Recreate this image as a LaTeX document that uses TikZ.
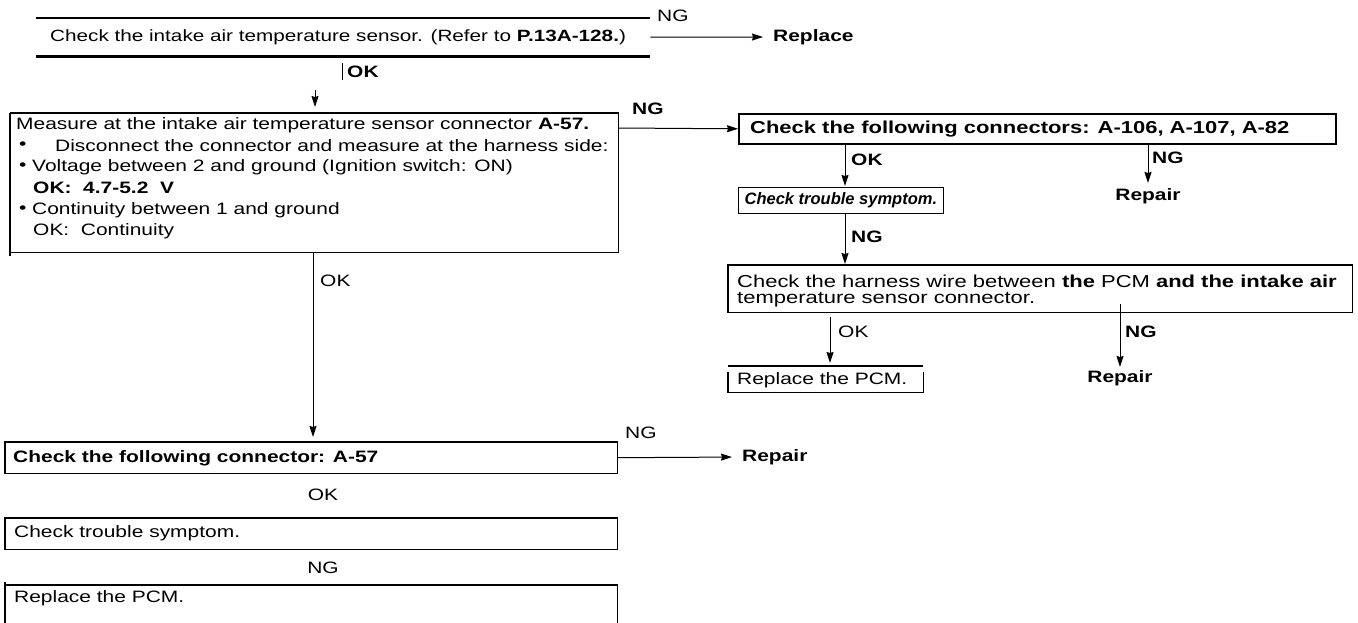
\documentclass[tikz,border=0pt]{standalone}
\usepackage{fontspec}
\setmainfont{Liberation Sans}[FakeStretch=1.27]
\newfontfamily\narrowfont{Liberation Sans}
\usetikzlibrary{arrows.meta,calc}
\newcommand\myfs{\fontsize{16.5}{19}\selectfont}
\newcommand\mybigfs{\fontsize{17.3}{20}\selectfont}
\tikzset{
  txt/.style={font=\myfs, inner sep=0pt, anchor=west},
  btxt/.style={font=\myfs\bfseries, inner sep=0pt, anchor=west},
  ctxt/.style={font=\myfs, inner sep=0pt, anchor=center},
  area/.style={draw=none, inner sep=0pt, anchor=north west},
  frame/.style={line width=1.6pt},
  thinframe/.style={line width=1.2pt},
  heavy/.style={line width=2.8pt},
  arr/.style={line width=1pt, -{Stealth[length=11pt,width=7pt,inset=1pt]}},
}
\begin{document}
\begin{tikzpicture}[x=1pt,y=-1pt]
\useasboundingbox (0,0) rectangle (1358,622);
\fill[white] (0,0) rectangle (1358,622);

% ---------- Box 1 ----------
\node[area, minimum width=614pt, minimum height=38pt] (b1) at (36,18) {};
\draw[thinframe] (b1.north west) -- (b1.north east);
\draw[heavy] (b1.south west) -- (b1.south east);
\node[txt, font=\fontsize{16.3}{19}\selectfont] (b1t) at (50,37) {Check the intake air temperature sensor. (Refer to \textbf{P.13A-128.})};
\node[txt] (ng1) at (657,16) {NG};
\node[btxt] (rep1) at (773,37) {Replace};
\draw[arr, shorten >=10pt] (b1.east) -- (rep1.west);

% OK tick and arrowhead
\coordinate (t1) at (342,63);
\draw[line width=1pt] (t1) -- ++(0,17);
\node[btxt] (ok1) at (347,72) {OK};
\coordinate (a1) at (315,90);

% ---------- Box 2 ----------
\node[area, minimum width=608pt, minimum height=139pt] (b2) at (10,113) {};
\draw[frame] (b2.north west) -- (b2.north east) -- (b2.south east) -- (b2.south west);
\draw[frame] (b2.north west) -- ([yshift=-4pt]b2.south west);
\draw[arr, shorten >=6pt] (a1) -- (a1 |- b2.north);
\node[txt] (l1) at (16,125) {Measure at the intake air temperature sensor connector \textbf{A-57.}};
\node[txt] (l2b) at (19,146) {•};
\node[txt] (l2) at (55,146) {Disconnect the connector and measure at the harness side:};
\node[txt] (l3b) at (19,167) {•};
\node[txt] (l3) at (32,167) {Voltage between 2 and ground (Ignition switch: ON)};
\node[txt] (l4) at (33,188) {\textbf{OK: \ 4.7-5.2 \ V}};
\node[txt] (l5b) at (19,210) {•};
\node[txt] (l5) at (32,210) {Continuity between 1 and ground};
\node[txt] (l6) at (33,231) {OK: \ Continuity};

% ---------- Right branch ----------
\node[btxt] (ng2) at (632,109) {NG};
\node[area, draw, frame, minimum width=597pt, minimum height=30pt] (b3) at (738,113) {};
\node[btxt, font=\mybigfs\bfseries] (b3t) at (750,129) {Check the following connectors: A-106, A-107, A-82};
\draw[arr] ([yshift=-15pt]b2.north east) -- (b3.west);

\node[area, draw, thinframe, minimum height=26pt, inner xsep=6pt, font=\narrowfont\myfs\bfseries\itshape] (b4) at (738,187) {Check trouble symptom.};
\draw[arr] ($(b3.south west)+(107,0)$) -- ($(b4.north west)+(107,-1)$);
\node[btxt] (ok2) at (851,160) {OK};

\node[ctxt, font=\myfs\bfseries, anchor=north] (rep2) at (1148,188) {Repair};
\draw[arr] (b3.south -| rep2.north) -- ([yshift=5pt]rep2.north);
\node[btxt] (ng3) at (1152,158) {NG};

\node[area, minimum width=624pt, minimum height=47pt] (b5) at (728,265) {};
\draw[frame] (b5.north west) rectangle (b5.south east);
\draw[arr] ($(b4.south west)+(107,0)$) -- ($(b5.north west)+(117,-1)$);
\node[btxt] (ng4) at (851,237) {NG};
\node[txt, font=\mybigfs] (h1) at (737,281) {Check the harness wire between \textbf{the} PCM \textbf{and the intake air}};
\node[txt, font=\mybigfs] (h2) at (737,300) {temperature sensor connector.};

\node[area, minimum width=195pt, minimum height=26pt] (b6) at (728,366) {};
\draw[heavy] (b6.north west) -- (b6.north east);
\draw[thinframe] ([yshift=-6pt]b6.north west) -- (b6.south west) -- (b6.south east) -- ([yshift=-6pt]b6.north east);
\node[txt] (b6t) at (737,380) {Replace the PCM.};
\draw[arr] ($(b5.south west)+(102,5)$) -- ($(b6.north west)+(102,-3)$);
\node[txt] (ok3) at (838,332) {OK};

\node[ctxt, font=\myfs\bfseries, anchor=north] (rep3) at (1120,370) {Repair};
\draw[arr] ([yshift=8pt]b5.south -| rep3.north) -- ([yshift=3pt]rep3.north);
\node[btxt] (ng5) at (1125,332) {NG};

% ---------- Lower left ----------
\node[area, minimum width=612pt, minimum height=31pt] (b7) at (5,442) {};
\draw[frame] (b7.north west) rectangle (b7.south east);
\node[btxt] (b7t) at (13,458) {Check the following connector: A-57};
\draw[arr, shorten >=5pt] ($(b2.south west)+(303,0)$) -- ($(b7.north west)+(308,0)$);
\node[txt] (ok4) at (320,281) {OK};
\node[txt] (ng6) at (625,433) {NG};
\node[btxt] (rep4) at (742,457) {Repair};
\draw[arr, shorten >=10pt] (b7.east) -- (rep4.west);

\node[ctxt] (ok5) at (323,495) {OK};
\node[area, minimum width=612pt, minimum height=31pt] (b8) at (5,518) {};
\draw[frame] (b8.north west) rectangle (b8.south east);
\node[txt] (b8t) at (14,533) {Check trouble symptom.};
\node[ctxt] (ng7) at (323,568) {NG};

\node[area, minimum width=612pt, minimum height=40pt] (b9) at (5,585) {};
\draw[frame] ([yshift=3pt]b9.north west) -- (b9.south west);
\draw[frame] (b9.north west) -- (b9.north east) -- (b9.south east);
\node[txt] (b9t) at (14,598) {Replace the PCM.};
\end{tikzpicture}
\end{document}
